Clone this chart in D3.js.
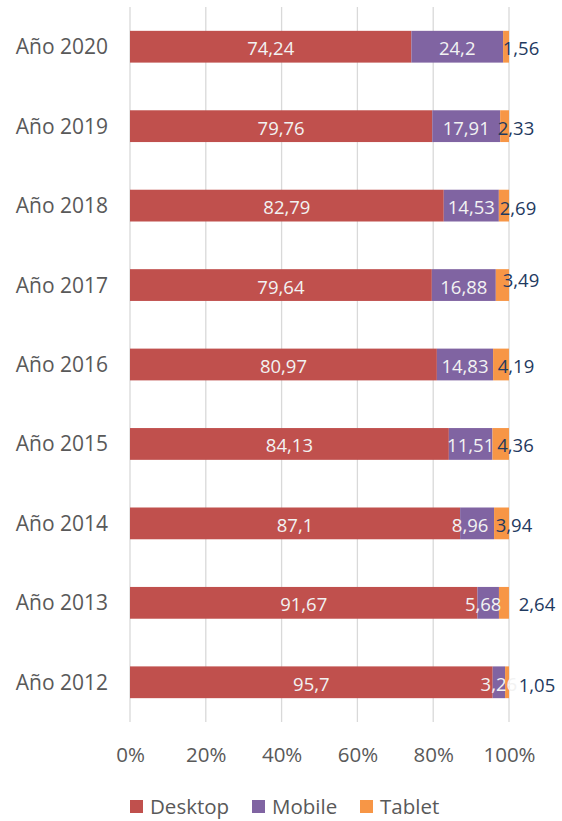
<!DOCTYPE html>
<html>
<head>
<meta charset="utf-8">
<script src="https://cdn.jsdelivr.net/npm/d3@7"></script>
<style>
  html, body { margin: 0; padding: 0; background: #fff; }
  svg { display: block; font-family: "Open Sans", sans-serif; }
</style>
</head>
<body>
<svg id="chart" width="562" height="821"></svg>
<script>
// Categories (top to bottom) and per-device shares in percent
const years = ["Año 2020", "Año 2019", "Año 2018", "Año 2017", "Año 2016", "Año 2015", "Año 2014", "Año 2013", "Año 2012"];
const desktop = [74.24, 79.76, 82.79, 79.64, 80.97, 84.13, 87.1, 91.67, 95.7];
const mobile  = [24.2, 17.91, 14.53, 16.88, 14.83, 11.51, 8.96, 5.68, 3.26];
const tablet  = [1.56, 2.33, 2.69, 3.49, 4.19, 4.36, 3.94, 2.64, 1.05];
const seriesNames = ["Desktop", "Mobile", "Tablet"];
const tickValues = [0, 20, 40, 60, 80, 100];

// Hand-placed label nudges (px) for the narrow segments
const mobileLabelDx = [0, 0, 0, 0, 0, 0, -7, -5, 0];
const tabletLabelDx = [12, 7, 9, 12, 7, 6.5, 5, 28, 28];
const tabletLabelDy = [0, 0, 1, -7, 0, 0, 0, 0, 1];

const colors = { Desktop: "#c0504d", Mobile: "#8064a2", Tablet: "#f79646" };
const FONT = '"Open Sans", sans-serif';

const svg = d3.select("#chart");
const margin = { top: 7, right: 53, bottom: 99, left: 130 };
const W = 562, H = 821;
const innerW = W - margin.left - margin.right;
const innerH = H - margin.top - margin.bottom;

const x = d3.scaleLinear().domain([0, 100]).range([margin.left, margin.left + innerW]);
const y = d3.scaleBand().domain(years).range([margin.top, margin.top + innerH])
  .paddingInner(0.6).paddingOuter(0.3);

// Vertical gridlines
svg.append("g").selectAll("line").data(tickValues).join("line")
  .attr("x1", d => x(d)).attr("x2", d => x(d))
  .attr("y1", margin.top).attr("y2", margin.top + innerH)
  .attr("stroke", "#d9d9d9").attr("stroke-width", 1.3);

// Stacked rows
const rows = years.map((yr, i) => ({ year: yr, Desktop: desktop[i], Mobile: mobile[i], Tablet: tablet[i], i }));
const stack = d3.stack().keys(seriesNames)(rows);

const layers = svg.append("g").selectAll("g").data(stack).join("g")
  .attr("fill", d => colors[d.key]);
layers.selectAll("rect").data(d => d).join("rect")
  .attr("x", d => x(d[0]))
  .attr("width", d => x(d[1]) - x(d[0]))
  .attr("y", d => y(d.data.year))
  .attr("height", y.bandwidth());

// Value labels
const labelG = svg.append("g").attr("font-size", 18.5).attr("text-anchor", "middle");
stack.forEach(layer => {
  layer.forEach(d => {
    const i = d.data.i;
    let cx = (x(d[0]) + x(d[1])) / 2;
    let cy = y(d.data.year) + y.bandwidth() / 2 + 8.5;
    let fill = "#f2f2f2";
    if (layer.key === "Mobile") cx += mobileLabelDx[i];
    if (layer.key === "Tablet") {
      cx = x(100) + tabletLabelDx[i];
      cy += tabletLabelDy[i];
      fill = "#1f3a5f";
    }
    labelG.append("text")
      .attr("x", cx).attr("y", cy)
      .attr("fill", fill)
      .text(String(d.data[layer.key]).replace(".", ","));
  });
});

// Category labels
svg.append("g").selectAll("text").data(years).join("text")
  .attr("x", 108)
  .attr("y", d => y(d) + y.bandwidth() / 2 + 7.5)
  .attr("text-anchor", "end")
  .attr("font-size", 21)
  .attr("fill", "#595959")
  .text(d => d);

// Percentage axis
const axis = d3.axisBottom(x).tickValues(tickValues).tickFormat(d => d + "%").tickSize(0).tickPadding(0);
const axisG = svg.append("g").attr("transform", `translate(0, ${margin.top + innerH})`).call(axis);
axisG.select(".domain").remove();
axisG.selectAll("text")
  .attr("y", 39.5).attr("dy", 0)
  .attr("font-size", 20.5)
  .attr("font-family", FONT)
  .attr("fill", "#595959");

// Legend
const legendX = [130, 252, 360];
const legend = svg.append("g").selectAll("g").data(seriesNames).join("g")
  .attr("transform", (d, i) => `translate(${legendX[i]}, 800)`);
legend.append("rect").attr("width", 13).attr("height", 13).attr("fill", d => colors[d]);
legend.append("text").attr("x", 20).attr("y", 13.5)
  .attr("font-size", 20.5).attr("fill", "#595959").text(d => d);
</script>
</body>
</html>
